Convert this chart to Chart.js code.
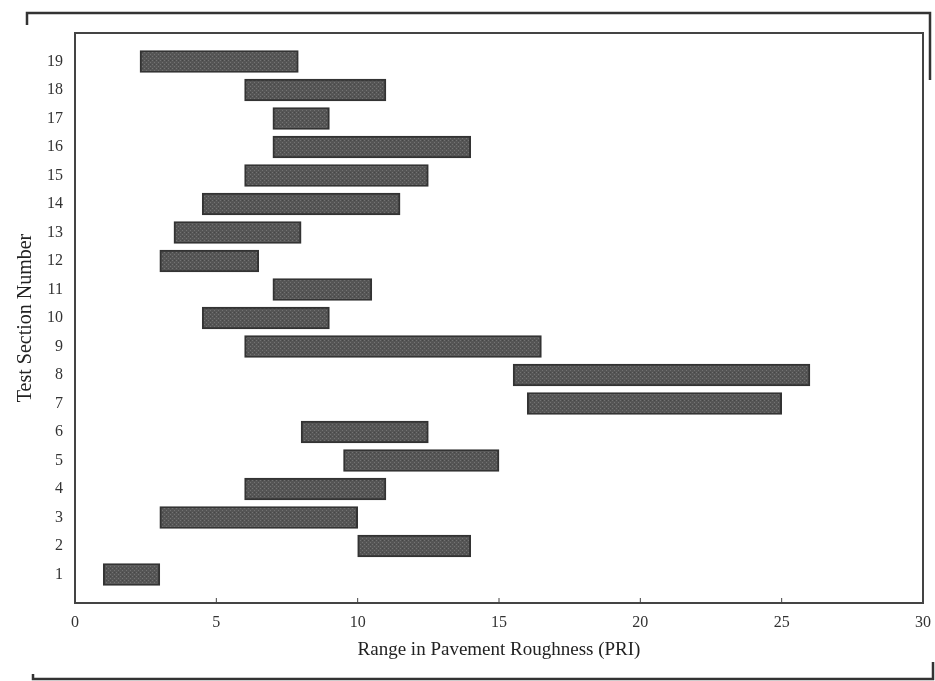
<!DOCTYPE html>
<html>
<head>
<meta charset="utf-8">
<script src="https://cdn.jsdelivr.net/npm/chart.js@4"></script>
<style>
	html, body { margin: 0; padding: 0; background: #fff; }
	#wrap { width: 935px; height: 681px; position: relative; }
</style>
</head>
<body>
<div id="wrap"><canvas id="myChart"></canvas></div>
<script>
// test sections and the roughness range (low, high) for each one
const sections = ['1', '2', '3', '4', '5', '6', '7', '8', '9', '10',
	'11', '12', '13', '14', '15', '16', '17', '18', '19'];
const lowPRI = [1, 10, 3, 6, 9.5, 8, 16, 15.5, 6, 4.5,
	7, 3, 3.5, 4.5, 6, 7, 7, 6, 2.3];
const highPRI = [3, 14, 10, 11, 15, 12.5, 25, 26, 16.5, 9,
	10.5, 6.5, 8, 11.5, 12.5, 14, 9, 11, 7.9];
const xTicks = [0, 5, 10, 15, 20, 25, 30];

// empty slot at each end so section 1 and 19 sit one step in from the frame
const labels = [''].concat(sections, ['']);
const ranges = [null].concat(sections.map((s, i) => [lowPRI[i], highPRI[i]]), [null]);

function stipple() {
	const c = document.createElement('canvas');
	c.width = 4;
	c.height = 4;
	const g = c.getContext('2d');
	g.fillStyle = '#555';
	g.fillRect(0, 0, 4, 4);
	g.fillStyle = '#737373';
	g.fillRect(0, 0, 1, 1);
	g.fillRect(2, 2, 1, 1);
	g.fillStyle = '#474747';
	g.fillRect(2, 0, 1, 1);
	return g.createPattern(c, 'repeat');
}

const frames = {
	id: 'frames',
	afterDraw(chart) {
		const { ctx, chartArea: a } = chart;
		ctx.save();
		ctx.strokeStyle = '#444';
		ctx.lineWidth = 2;
		ctx.strokeRect(a.left, a.top, a.right - a.left, a.bottom - a.top);

		// little inward tick marks on the x axis
		const xs = chart.scales.x;
		ctx.lineWidth = 1;
		xTicks.forEach(v => {
			const px = xs.getPixelForValue(v);
			ctx.beginPath();
			ctx.moveTo(px, a.bottom);
			ctx.lineTo(px, a.bottom - 5);
			ctx.stroke();
		});

		// broken outer page frame
		ctx.lineWidth = 2.5;
		ctx.strokeStyle = '#333';
		ctx.beginPath();
		ctx.moveTo(27, 25);
		ctx.lineTo(27, 13);
		ctx.lineTo(930, 13);
		ctx.lineTo(930, 80);
		ctx.stroke();
		ctx.beginPath();
		ctx.moveTo(33, 674);
		ctx.lineTo(33, 679);
		ctx.lineTo(933, 679);
		ctx.lineTo(933, 662);
		ctx.stroke();
		ctx.restore();
	}
};

document.addEventListener('DOMContentLoaded', () => {
	const ctx = document.getElementById('myChart');

	new Chart(ctx, {
		type: 'bar',
		data: {
			labels: labels,
			datasets: [
				{
					label: 'PRI range',
					data: ranges,
					backgroundColor: stipple(),
					borderColor: '#333',
					borderWidth: 2,
					borderSkipped: false,
					barThickness: 22,
				},
			],
		},
		options: {
			indexAxis: 'y',
			responsive: true,
			maintainAspectRatio: false,
			animation: false,
			layout: { padding: { top: 33, right: 12, bottom: 0, left: 0 } },
			plugins: {
				legend: { display: false },
				tooltip: { enabled: false },
			},
			scales: {
				x: {
					type: 'linear',
					min: 0,
					max: 30,
					afterBuildTicks: (scale) => {
						scale.ticks = xTicks.map(v => ({ value: v }));
					},
					afterFit: (scale) => {
						scale.height = 78;
						scale.paddingLeft = 0;
						scale.paddingRight = 0;
					},
					grid: { display: false, drawTicks: false },
					border: { display: false },
					ticks: {
						padding: 10,
						color: '#333',
						font: { family: 'Liberation Serif', size: 16 },
					},
					title: {
						display: true,
						text: 'Range in Pavement Roughness (PRI)',
						color: '#222',
						font: { family: 'Liberation Serif', size: 19 },
						padding: { top: 0, bottom: 20 },
					},
				},
				y: {
					type: 'category',
					reverse: true,
					offset: false,
					afterFit: (scale) => { scale.width = 75; },
					grid: { display: false, drawTicks: false },
					border: { display: false },
					ticks: {
						padding: 12,
						autoSkip: false,
						color: '#333',
						font: { family: 'Liberation Serif', size: 16 },
					},
					title: {
						display: true,
						text: 'Test Section Number',
						color: '#222',
						font: { family: 'Liberation Serif', size: 20 },
						padding: { top: 14, bottom: 0 },
					},
				},
			},
		},
		plugins: [frames],
	});
});
</script>
</body>
</html>
